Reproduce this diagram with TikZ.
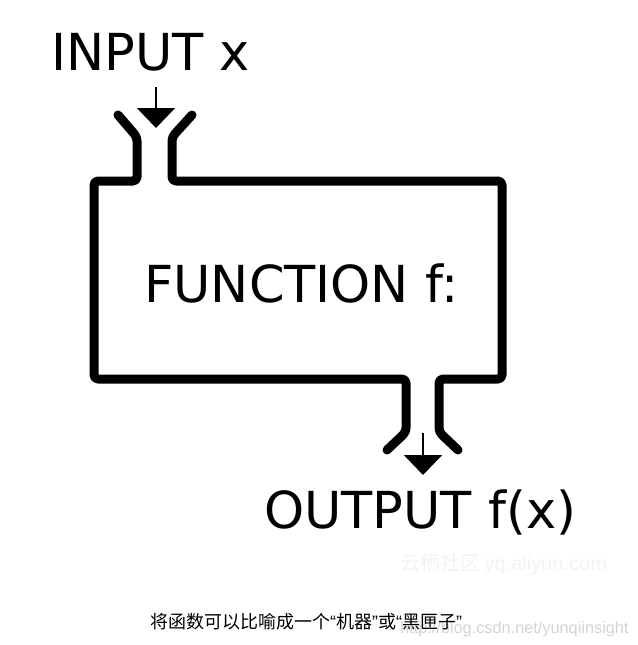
\documentclass[tikz,border=0pt]{standalone}
\usepackage{fontspec}
\setmainfont{DejaVu Sans}
\newfontfamily\cjkfont{Noto Sans CJK SC}
\newfontfamily\markfont{Liberation Sans}
\usetikzlibrary{arrows.meta}
\definecolor{markgray}{HTML}{D4D4D4}
\definecolor{palegray}{HTML}{F3F3F3}
\newcommand{\openq}{{\markfont “}}
\newcommand{\closeq}{{\markfont ”}}

\begin{document}
\begin{tikzpicture}[x=1pt,y=-1pt,
      >={Triangle[width=38pt,length=20pt]},
      wall/.style={line width=9pt,line cap=round,line join=round,rounded corners=4pt},
      arrow/.style={->,line width=2pt},
      bigtext/.style={anchor=base west,inner sep=0pt,font=\fontsize{51}{60}\selectfont},
      marktext/.style={anchor=base west,inner sep=0pt}
    ]
    \fill[white] (0,0) rectangle (637,645);
    \useasboundingbox (0,0) rectangle (637,645);
    % labels
    \node[bigtext] (input) at (51,70) {INPUT x};
    \node[bigtext] (function) at (144,302) {FUNCTION f:};
    \node[bigtext] (output) at (264,528) {OUTPUT f(x)};
    % the machine
    \draw[wall] (118,115) -- (137,137) -- (137,181) -- (94,181) -- (94,379)
      -- (406,379) -- (406,432) -- (387,450);
    \draw[wall] (192,115) -- (172,137) -- (172,181) -- (502,181) -- (502,379)
      -- (439,379) -- (439,432) -- (458,450);
    \coordinate (inStart) at (156,87);
    \coordinate (inTip) at (156,128);
    \coordinate (outStart) at (423,433);
    \coordinate (outTip) at (423,475);
    \draw[arrow] (inStart) -- (inTip);
    \draw[arrow] (outStart) -- (outTip);
    % watermarks and caption
    \node[marktext,text=palegray,font=\fontsize{20}{24}\selectfont] (yqmark) at (400,570)
      {\cjkfont 云栖社区 \markfont yq.aliyun.com};
    \node[marktext,text=markgray,font=\markfont\fontsize{16.3}{20}\selectfont] (csdnmark) at (400,633)
      {http://blog.csdn.net/yunqiinsight};
    \node[marktext,font=\cjkfont\fontsize{18}{22}\selectfont] (caption) at (150,628)
      {将函数可以比喻成一个\openq 机器\closeq 或\openq 黑匣子\closeq};
  \end{tikzpicture}
\end{document}
